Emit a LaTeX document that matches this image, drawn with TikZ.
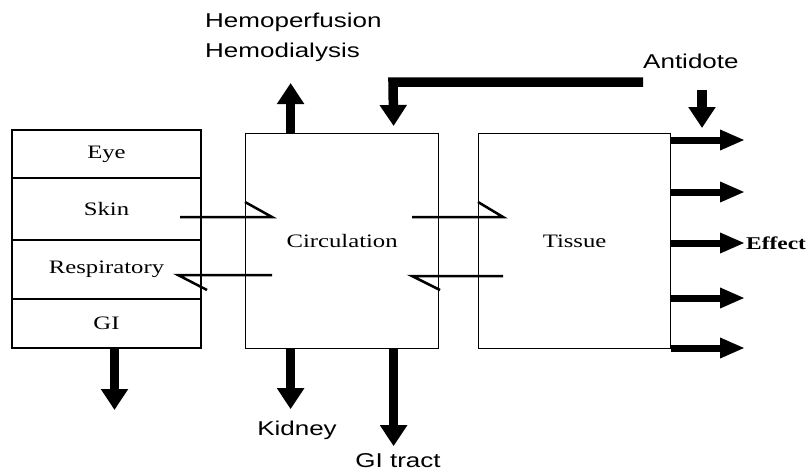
\documentclass[tikz,border=0pt]{standalone}
\usepackage{fontspec}
\setmainfont[FakeStretch=1.3]{Liberation Serif}
\newfontfamily\routefont[FakeStretch=1.3]{Liberation Sans}
\usetikzlibrary{arrows.meta,positioning}

\tikzset{
	organ/.style={draw, line width=1.2pt, minimum width=189pt, inner sep=0pt,
		outer sep=0pt, font=\fontsize{19}{21}\selectfont},
	compartment/.style={draw, line width=1.2pt, minimum width=193pt,
		minimum height=215pt, font=\fontsize{19}{21}\selectfont},
	fat/.style={line width=9.5pt, -{Triangle[width=26pt,length=21pt]}},
	slim/.style={line width=7pt, -{Triangle[width=19pt,length=25pt]}},
	half/.style={line width=2.5pt},
	route/.style={font=\routefont\fontsize{20}{30}\selectfont, inner sep=0pt}
}

\begin{document}
\begin{tikzpicture}[x=1pt,y=-1pt]
	\useasboundingbox (0,0) rectangle (811,474);
	
	% exposure sites
	\node[organ, minimum height=48pt, anchor=north west] (eye) at (12,130) {Eye};
	\node[organ, minimum height=62pt, below=0pt of eye] (skin) {Skin};
	\node[organ, minimum height=59pt, below=0pt of skin] (resp) {Respiratory};
	\node[organ, minimum height=49pt, below=0pt of resp] (gi) {GI};
	
	\node[compartment, anchor=north west] (circ) at (245,133) {Circulation};
	\node[compartment, anchor=north west, minimum width=192pt] (tissue) at (478,133) {Tissue};
	
	% routes out
	\node[route, align=left, anchor=west] (hemo) at (205,37) {Hemoperfusion\\Hemodialysis};
	\node[route, anchor=west] (antidote) at (643,61) {Antidote};
	\node[route] (kidney) at (297,430) {Kidney};
	\node[route] (gitract) at (398,461) {GI tract};
	\node[font=\bfseries\fontsize{18}{20}\selectfont, anchor=west, inner sep=0pt] (effect) at (746,243) {Effect};
	
	% half arrows
	\coordinate (s1) at (180,217);
	\coordinate (s2) at (272,217);
	\coordinate (r1) at (272,275);
	\coordinate (r2) at (178,275);
	\coordinate (t1) at (412,217);
	\coordinate (t2) at (503,217);
	\coordinate (u1) at (503,276);
	\coordinate (u2) at (412,276);
	\draw[half] (s1) -- (s2) -- ++(-27,-15);
	\draw[half] (r1) -- (r2) -- ++(29,15);
	\draw[half] (t1) -- (t2) -- ++(-25,-15);
	\draw[half] (u1) -- (u2) -- ++(28,14);
	
	% elimination
	\draw[fat] ([xshift=8pt]gi.south) -- ++(0,62);
	\draw[fat] ([xshift=-51.5pt]circ.south) -- ++(0,60);
	\draw[fat] ([xshift=51.5pt]circ.south) -- ++(0,97);
	\draw[fat] ([xshift=-51.5pt]circ.north) -- ++(0,-50);
	
	% antidote
	\draw[fat] (antidote.west |- 0,82) -- (393,82) -- ([xshift=51.5pt,yshift=7pt]circ.north);
	\draw[fat] ([xshift=59pt]antidote.west |- 0,90) -- ++(0,38);
	
	% effect
	\foreach \y in {140,192,243,298,348}
		\draw[slim] (tissue.east |- 0,\y) -- (745,\y);
	
\end{tikzpicture}
\end{document}
